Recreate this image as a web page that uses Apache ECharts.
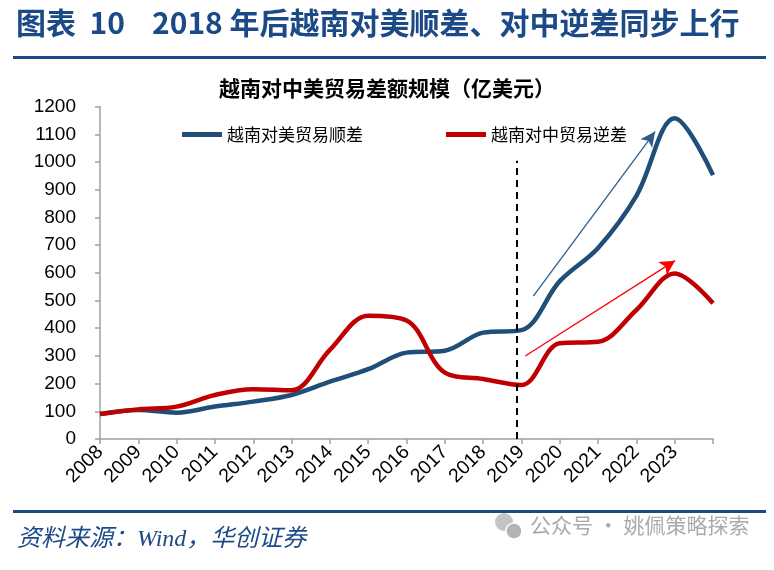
<!DOCTYPE html>
<html>
<head>
<meta charset="utf-8">
<script src="https://cdn.jsdelivr.net/npm/echarts@6/dist/echarts.min.js"></script>
<style>
html,body{margin:0;padding:0;background:#fff;}
#main{width:774px;height:570px;}
</style>
</head>
<body>
<div id="main"></div>
<script>
// ---- data ----
var years = ['2008','2009','2010','2011','2012','2013','2014','2015','2016','2017','2018','2019','2020','2021','2022','2023',''];
var usSurplus = [90,105,95,117,135,159,207,252,312,319,384,393,570,690,878,1158,953];
var cnDeficit = [90,107,117,159,180,176,322,445,428,240,217,195,346,351,466,598,490];
var yTicks = {min:0, max:1200, interval:100};
// annotation positions (x in category-index units, y in value units)
var dividerX = 10.87, dividerTop = 1005;
var blueArrow = [[11.31,516],[14.49,1110]];
var redArrow = [[11.10,300],[15.01,644]];

var BLUE = '#1F4E79', RED = '#C00000', HEAD = '#1C4A87';
var cjk = '"Noto Sans CJK SC", "Noto Sans", sans-serif';

var chart = echarts.init(document.getElementById('main'), null, {renderer:'canvas'});
chart.setOption({
  animation:false,
  backgroundColor:'#fff',
  graphic:[
    {type:'text', left:16, top:8, style:{text:'图表  10', font:'bold 30px '+cjk, fill:HEAD}},
    {type:'text', left:152, top:8, style:{text:'2018 年后越南对美顺差、对中逆差同步上行', font:'bold 30px '+cjk, fill:HEAD}},
    {type:'rect', shape:{x:13, y:56, width:753, height:3}, style:{fill:HEAD}},
    {type:'text', left:'center', top:78, style:{text:'越南对中美贸易差额规模（亿美元）', font:'bold 21px '+cjk, fill:'#000'}},
    {type:'rect', shape:{x:13, y:510, width:753, height:3}, style:{fill:HEAD}},
    {type:'text', left:17, top:528, style:{text:'资料来源：Wind，华创证券', font:'italic 24px "Liberation Serif", '+cjk, fill:HEAD}},
    {type:'circle', shape:{cx:504, cy:522, r:9}, style:{fill:'#c4c4c4'}},
    {type:'circle', shape:{cx:514, cy:531, r:8}, style:{fill:'#b4b4b4', stroke:'#fff', lineWidth:1.5}},
    {type:'text', left:530, top:515, style:{text:'公众号 · 姚佩策略探索', font:'21px '+cjk, fill:'#aaaaaa'}}
  ],
  legend:[
    {left:177, top:121, itemWidth:40, itemHeight:5, icon:'rect', data:['越南对美贸易顺差'],
     textStyle:{fontFamily:cjk, fontSize:17, color:'#000'}},
    {left:441, top:121, itemWidth:40, itemHeight:5, icon:'rect', data:['越南对中贸易逆差'],
     textStyle:{fontFamily:cjk, fontSize:17, color:'#000'}}
  ],
  grid:{left:100, right:61, top:106.7, bottom:131, containLabel:false},
  xAxis:[
    {type:'category', data:years, boundaryGap:false,
     axisLine:{lineStyle:{color:'#A0A0A0', width:1.5}},
     axisTick:{show:true, length:5, interval:0, lineStyle:{color:'#A0A0A0', width:1.5}},
     axisLabel:{interval:0, rotate:45, margin:10, fontFamily:'"Liberation Sans", Arial, sans-serif', fontSize:19.5, color:'#000'},
     splitLine:{show:false}},
    {type:'value', min:0, max:16, show:false}
  ],
  yAxis:{type:'value', min:yTicks.min, max:yTicks.max, interval:yTicks.interval,
     axisLine:{show:true, lineStyle:{color:'#A0A0A0', width:1.5}},
     axisTick:{show:true, length:5, lineStyle:{color:'#A0A0A0', width:1.5}},
     axisLabel:{margin:24, fontFamily:'"Liberation Sans", Arial, sans-serif', fontSize:19, color:'#000',
       formatter:function(v){return String(v);}},
     splitLine:{show:false}},
  series:[
    {name:'越南对美贸易顺差', type:'line', data:usSurplus, smooth:0.35, symbol:'none',
     lineStyle:{color:BLUE, width:4.5}, itemStyle:{color:BLUE}, z:3},
    {name:'越南对中贸易逆差', type:'line', data:cnDeficit, smooth:0.35, symbol:'none',
     lineStyle:{color:RED, width:4.5}, itemStyle:{color:RED}, z:3},
    {name:'annot', type:'scatter', xAxisIndex:1, data:[[0,0]], symbolSize:0, silent:true, z:4,
     markLine:{silent:true, animation:false, label:{show:false},
       data:[
         [{coord:[dividerX,0], symbol:'none', lineStyle:{color:'#000', width:2, type:[7,5]}},
          {coord:[dividerX,dividerTop], symbol:'none'}],
         [{coord:blueArrow[0], symbol:'none', lineStyle:{color:'#2E5C8E', width:1.3, type:'solid'}},
          {coord:blueArrow[1], symbol:'arrow', symbolSize:[11,15]}],
         [{coord:redArrow[0], symbol:'none', lineStyle:{color:'#FF0000', width:1.3, type:'solid'}},
          {coord:redArrow[1], symbol:'arrow', symbolSize:[12,15]}]
       ]}}
  ]
});
</script>
</body>
</html>
